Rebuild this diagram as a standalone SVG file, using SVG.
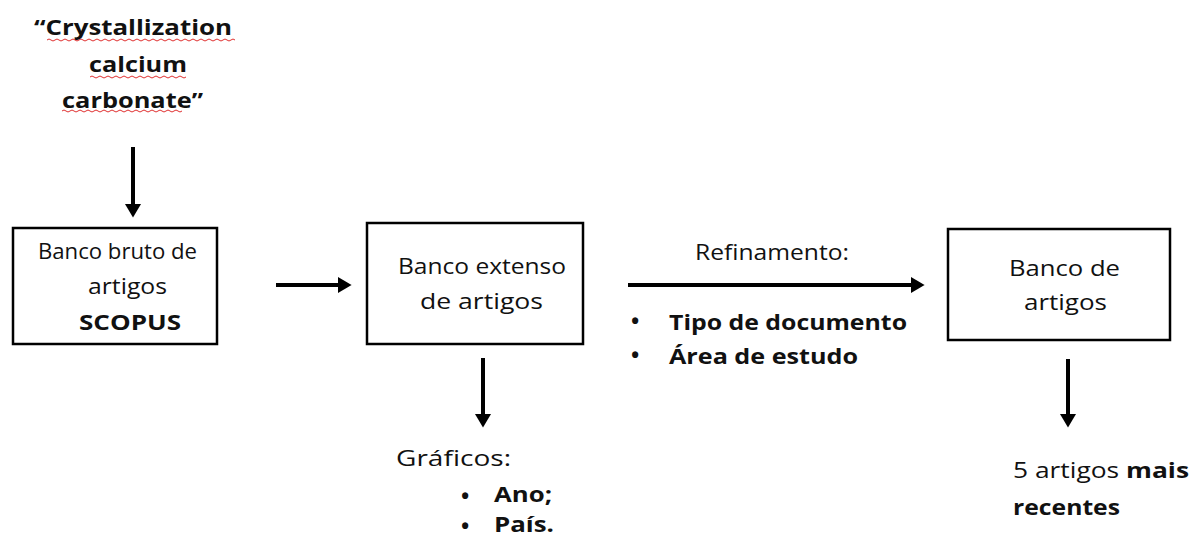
<svg xmlns="http://www.w3.org/2000/svg" width="1194" height="540" viewBox="0 0 1194 540">
<defs>
<marker id="ah" markerWidth="4" markerHeight="4" refX="0" refY="2" orient="auto" markerUnits="strokeWidth">
<path d="M0,0 L3.4,2 L0,4 Z" fill="#000"/>
</marker>
<style>
text{font-family:"Open Sans","Liberation Sans",sans-serif;font-size:22px;fill:#111;font-variant-ligatures:none;}
.b{font-weight:bold;}
.bul{font-size:22px;font-weight:bold;}
.box{fill:#fff;stroke:#000;stroke-width:2.5;}
.con{stroke:#000;stroke-width:4;fill:none;}
.sq{stroke:#e03030;stroke-width:1;fill:none;}
</style>
</defs>
<rect width="1194" height="540" fill="#fff"/>
<g id="query">
<text class="b" x="34" y="35" textLength="198" lengthAdjust="spacingAndGlyphs">“Crystallization</text>
<text class="b" x="89" y="72" textLength="98" lengthAdjust="spacingAndGlyphs">calcium</text>
<text class="b" x="62" y="108" textLength="141" lengthAdjust="spacingAndGlyphs">carbonate”</text>
<path class="sq" d="M47,40 q2,-2 4,0 t4,0 t4,0 t4,0 t4,0 t4,0 t4,0 t4,0 t4,0 t4,0 t4,0 t4,0 t4,0 t4,0 t4,0 t4,0 t4,0 t4,0 t4,0 t4,0 t4,0 t4,0 t4,0 t4,0 t4,0 t4,0 t4,0 t4,0 t4,0 t4,0 t4,0 t4,0 t4,0 t4,0 t4,0 t4,0 t4,0 t4,0 t4,0 t4,0 t4,0 t4,0 t4,0 t4,0 t4,0 t4,0 t4,0"/>
<path class="sq" d="M90,77 q2,-2 4,0 t4,0 t4,0 t4,0 t4,0 t4,0 t4,0 t4,0 t4,0 t4,0 t4,0 t4,0 t4,0 t4,0 t4,0 t4,0 t4,0 t4,0 t4,0 t4,0 t4,0 t4,0 t4,0 t4,0"/>
<path class="sq" d="M62,111 q2,-2 4,0 t4,0 t4,0 t4,0 t4,0 t4,0 t4,0 t4,0 t4,0 t4,0 t4,0 t4,0 t4,0 t4,0 t4,0 t4,0 t4,0 t4,0 t4,0 t4,0 t4,0 t4,0 t4,0 t4,0 t4,0 t4,0 t4,0 t4,0 t4,0 t4,0"/>
</g>
<g id="box1">
<rect class="box" x="13" y="228" width="204" height="116"/>
<text x="38" y="259" textLength="159" lengthAdjust="spacingAndGlyphs">Banco bruto de</text>
<text x="88" y="294" textLength="79" lengthAdjust="spacingAndGlyphs">artigos</text>
<text class="b" x="79" y="330" textLength="102" lengthAdjust="spacingAndGlyphs">SCOPUS</text>
</g>
<g id="box2">
<rect class="box" x="367" y="223" width="216" height="121"/>
<text x="398" y="274" textLength="168" lengthAdjust="spacingAndGlyphs">Banco extenso</text>
<text x="420" y="309" textLength="123" lengthAdjust="spacingAndGlyphs">de artigos</text>
</g>
<g id="box3">
<rect class="box" x="948" y="229" width="222" height="111"/>
<text x="1009" y="276" textLength="111" lengthAdjust="spacingAndGlyphs">Banco de</text>
<text x="1024" y="310" textLength="83" lengthAdjust="spacingAndGlyphs">artigos</text>
</g>
<g id="refinamento">
<text x="695" y="260" textLength="154" lengthAdjust="spacingAndGlyphs">Refinamento:</text>
<text class="bul" x="631" y="329">•</text>
<text class="b" x="669" y="330" textLength="238" lengthAdjust="spacingAndGlyphs">Tipo de documento</text>
<text class="bul" x="631" y="363">•</text>
<text class="b" x="669" y="364" textLength="189" lengthAdjust="spacingAndGlyphs">Área de estudo</text>
</g>
<g id="graficos">
<text x="396" y="466" textLength="115" lengthAdjust="spacingAndGlyphs">Gráficos:</text>
<text class="bul" x="461" y="504">•</text>
<text class="b" x="494" y="502" textLength="58" lengthAdjust="spacingAndGlyphs">Ano;</text>
<text class="bul" x="461" y="534">•</text>
<text class="b" x="494" y="532" textLength="60" lengthAdjust="spacingAndGlyphs">País.</text>
</g>
<g id="resultado">
<text x="1013" y="478" textLength="176" lengthAdjust="spacingAndGlyphs"><tspan>5 artigos </tspan><tspan class="b">mais</tspan></text>
<text class="b" x="1013" y="515" textLength="107" lengthAdjust="spacingAndGlyphs">recentes</text>
</g>
<g id="connectors">
<line class="con" x1="133" y1="147" x2="133" y2="204" marker-end="url(#ah)"/>
<line class="con" x1="276" y1="285" x2="338" y2="285" marker-end="url(#ah)"/>
<line class="con" x1="628" y1="285" x2="911" y2="285" marker-end="url(#ah)"/>
<line class="con" x1="483" y1="358" x2="483" y2="414" marker-end="url(#ah)"/>
<line class="con" x1="1068" y1="359" x2="1068" y2="414" marker-end="url(#ah)"/>
</g>
</svg>
